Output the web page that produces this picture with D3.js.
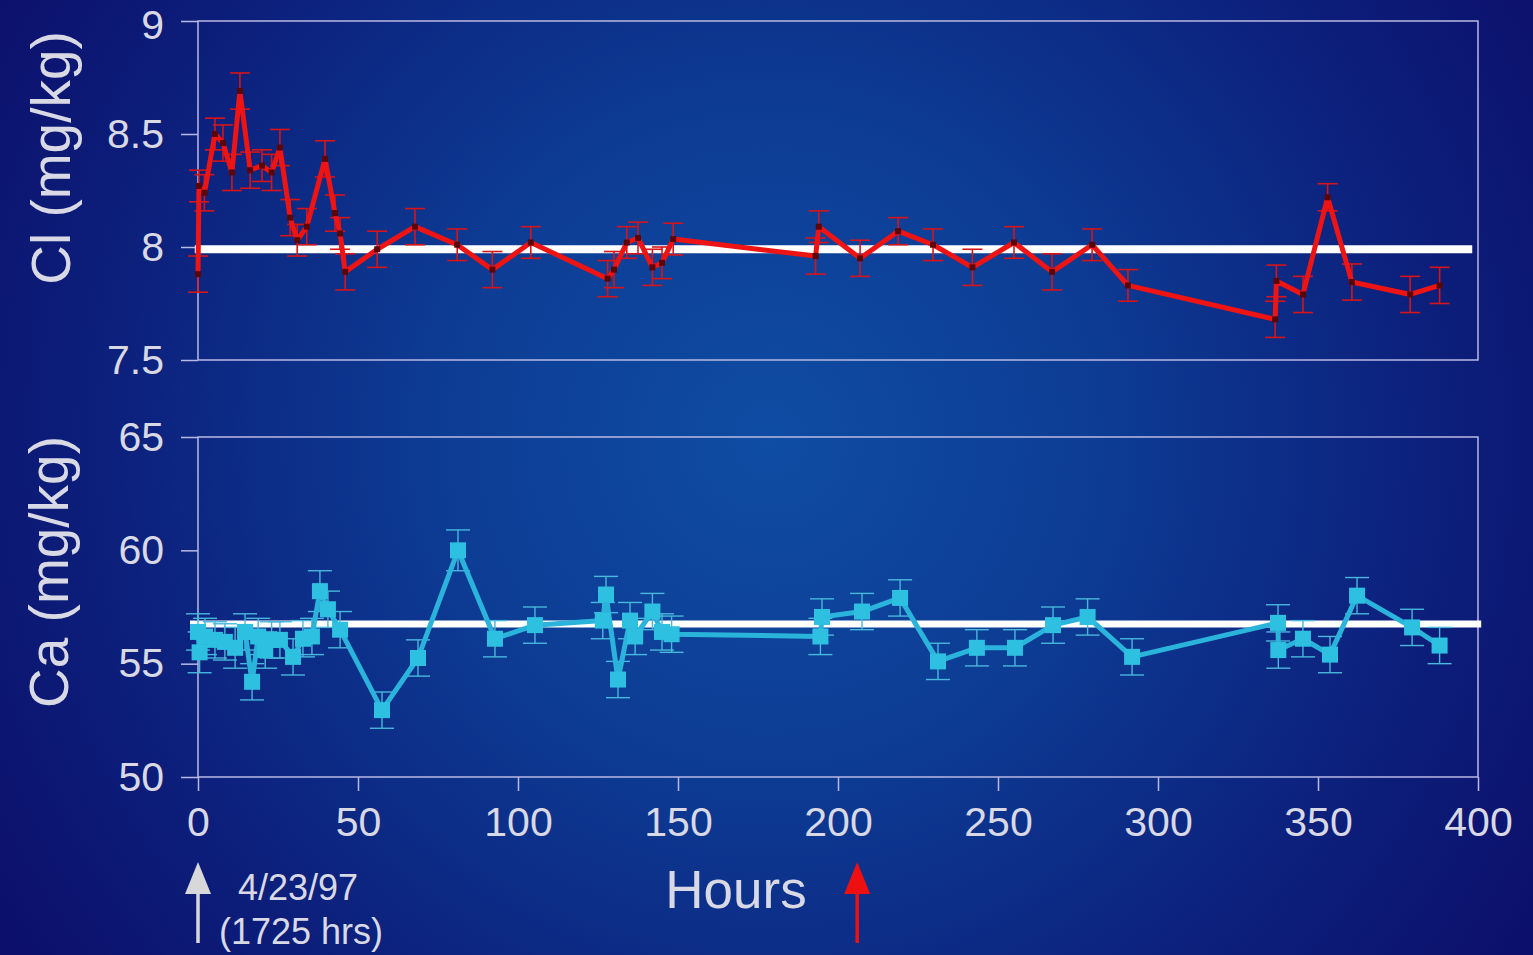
<!DOCTYPE html>
<html>
<head>
<meta charset="utf-8">
<script src="https://cdn.jsdelivr.net/npm/d3@7"></script>
<style>
  html, body { margin: 0; padding: 0; background: #0c116e; }
  svg { display: block; }
  text { font-family: "Liberation Sans", Arial, Helvetica, sans-serif; fill: #d9d9e6; }
</style>
</head>
<body>
<svg id="chart" width="1533" height="955"></svg>
<script>
// Chloride time series (hours, mg/kg, ± error)
const clHours = [0, 0.3, 2, 5.3, 7.8, 10.6, 13.1, 16.3, 20, 23, 25.6, 28.8, 31, 34, 39.7, 42.8, 44.4, 46,
  56, 67.8, 81, 92, 104, 128, 130, 134, 137.5, 142, 145, 148.5, 193, 194, 206.9, 218.8, 229.7,
  242, 255, 266.9, 279.4, 290.6, 336.6, 337, 345.3, 353, 360.6, 378.8, 388];
const clValues = [7.88, 8.27, 8.24, 8.50, 8.46, 8.33, 8.69, 8.34, 8.36, 8.33, 8.44, 8.13, 8.03, 8.09, 8.39, 8.15, 8.06, 7.89,
  7.99, 8.09, 8.01, 7.90, 8.02, 7.86, 7.90, 8.02, 8.04, 7.91, 7.93, 8.035, 7.96, 8.09, 7.95, 8.07, 8.01,
  7.91, 8.02, 7.89, 8.01, 7.83, 7.68, 7.85, 7.79, 8.22, 7.845, 7.79, 7.83];
const clErr = [0.08, 0.07, 0.08, 0.07, 0.08, 0.08, 0.08, 0.08, 0.07, 0.08, 0.08, 0.08, 0.07, 0.08, 0.08, 0.08, 0.07, 0.08,
  0.08, 0.08, 0.07, 0.08, 0.07, 0.08, 0.08, 0.07, 0.07, 0.08, 0.07, 0.07, 0.08, 0.07, 0.08, 0.06, 0.07,
  0.08, 0.07, 0.08, 0.07, 0.07, 0.08, 0.07, 0.08, 0.06, 0.08, 0.08, 0.08];

// Calcium time series (hours, mg/kg, ± error)
const caHours = [0, 0.5, 2.2, 5.3, 8.4, 11.6, 14.7, 16.9, 18.8, 21, 23, 25.6, 29.7, 32.8, 35.6, 38.1, 40.6, 44.4,
  57.5, 68.75, 81.25, 92.8, 105.3, 126.5, 127.5, 131.25, 135, 136.6, 142, 145, 148,
  194.5, 195, 207.5, 219.4, 231.25, 243.4, 255.3, 267.2, 278, 291.9,
  337.5, 337.6, 345.3, 353.75, 362.2, 379.4, 388];
const caValues = [56.4, 55.5, 56.2, 56.05, 55.96, 55.7, 56.4, 54.2, 56.2, 55.6, 56.05, 56.05, 55.3, 56.1, 56.2, 58.2, 57.4, 56.5,
  52.95, 55.25, 60.0, 56.1, 56.7, 56.9, 58.05, 54.3, 56.9, 56.2, 57.3, 56.4, 56.3,
  56.2, 57.06, 57.3, 57.9, 55.1, 55.7, 55.7, 56.7, 57.06, 55.3,
  56.8, 55.6, 56.1, 55.4, 58.0, 56.6, 55.8];
const caErr = [0.8, 0.9, 0.8, 0.8, 0.8, 0.9, 0.8, 0.8, 0.8, 0.8, 0.8, 0.8, 0.8, 0.8, 0.8, 0.9, 0.8, 0.8,
  0.8, 0.8, 0.9, 0.8, 0.8, 0.8, 0.8, 0.8, 0.8, 0.8, 0.8, 0.8, 0.8,
  0.8, 0.8, 0.8, 0.8, 0.8, 0.8, 0.8, 0.8, 0.8, 0.8,
  0.8, 0.8, 0.8, 0.8, 0.8, 0.8, 0.8];

// Long-term means drawn as reference lines
const clMean = 7.99;
const caMean = 56.75;

// Axis ticks
const xTicks = [0, 50, 100, 150, 200, 250, 300, 350, 400];
const clTicks = [7.5, 8, 8.5, 9];
const caTicks = [50, 55, 60, 65];
const clTickLabels = ["7.5", "8", "8.5", "9"];
const caTickLabels = ["50", "55", "60", "65"];

// Annotations
const startHour = 0;
const eventHour = 206;
const startLabel = ["4/23/97", "(1725 hrs)"];

const svg = d3.select("#chart");
const W = 1533, H = 955;

// Background: radial glow from the centre
const defs = svg.append("defs");
const grad = defs.append("radialGradient")
  .attr("id", "bg").attr("gradientUnits", "userSpaceOnUse")
  .attr("cx", 770).attr("cy", 440).attr("r", 900);
grad.append("stop").attr("offset", "0").attr("stop-color", "#0f4ca3");
grad.append("stop").attr("offset", "0.35").attr("stop-color", "#0d3d95");
grad.append("stop").attr("offset", "0.75").attr("stop-color", "#0c1f7b");
grad.append("stop").attr("offset", "1").attr("stop-color", "#0c106c");
svg.append("rect").attr("width", W).attr("height", H).attr("fill", "url(#bg)");

const x = d3.scaleLinear().domain([0, 400]).range([198, 1478]);
const yCl = d3.scaleLinear().domain([7.5, 9]).range([360, 21]);
const yCa = d3.scaleLinear().domain([50, 65]).range([777, 437]);

const frameColor = "#b9b9e4";

function panel(y, ticks, labels) {
  const g = svg.append("g");
  const [y0, y1] = y.range();
  g.append("rect")
    .attr("x", x(0)).attr("y", y1)
    .attr("width", x(400) - x(0)).attr("height", y0 - y1)
    .attr("fill", "none").attr("stroke", frameColor).attr("stroke-width", 1.5);
  const ax = d3.axisLeft(y).tickValues(ticks).tickFormat((d, i) => labels[i])
    .tickSize(17).tickPadding(17);
  const a = g.append("g").attr("transform", `translate(${x(0)},0)`).call(ax);
  a.select(".domain").remove();
  a.selectAll("line").attr("stroke", frameColor).attr("stroke-width", 1.5);
  a.selectAll("text").style("font-size", "41px").attr("fill", "#d9d9e6");
  // keep the topmost label inside the page
  a.selectAll("text").filter(d => d === ticks[ticks.length - 1] && y(d) < 30)
    .attr("dy", "0.42em");
  return g;
}

panel(yCl, clTicks, clTickLabels);
panel(yCa, caTicks, caTickLabels);

// Bottom x axis
const xa = svg.append("g").attr("transform", `translate(0,${yCa.range()[0]})`)
  .call(d3.axisBottom(x).tickValues(xTicks).tickFormat(d3.format("d")).tickSize(14).tickPadding(16));
xa.select(".domain").remove();
xa.selectAll("line").attr("stroke", frameColor).attr("stroke-width", 1.5);
xa.selectAll("text").style("font-size", "41px").attr("fill", "#d9d9e6");

// Axis titles
svg.append("text").attr("transform", `translate(70,158) rotate(-90)`)
  .attr("text-anchor", "middle").style("font-size", "55px").text("Cl (mg/kg)");
svg.append("text").attr("transform", `translate(68,572) rotate(-90)`)
  .attr("text-anchor", "middle").style("font-size", "55px").text("Ca (mg/kg)");
svg.append("text").attr("x", 736).attr("y", 908)
  .attr("text-anchor", "middle").style("font-size", "53px").text("Hours");

// Series drawing helper
function series(hours, values, errs, y, opt) {
  const data = hours.map((h, i) => ({ h, v: values[i], e: errs[i] }));
  const g = svg.append("g");
  const eb = g.append("g").attr("stroke", opt.errColor).attr("stroke-width", opt.errWidth);
  data.forEach(d => {
    const cx = x(d.h), yt = y(d.v + d.e), yb = y(d.v - d.e);
    eb.append("line").attr("x1", cx).attr("x2", cx).attr("y1", yt).attr("y2", yb);
    eb.append("line").attr("x1", cx - opt.cap).attr("x2", cx + opt.cap).attr("y1", yt).attr("y2", yt);
    eb.append("line").attr("x1", cx - opt.cap).attr("x2", cx + opt.cap).attr("y1", yb).attr("y2", yb);
  });
  g.append("path").datum(data)
    .attr("d", d3.line().x(d => x(d.h)).y(d => y(d.v)))
    .attr("fill", "none").attr("stroke", opt.color).attr("stroke-width", opt.lineWidth)
    .attr("stroke-linejoin", "round");
  g.selectAll("rect.m").data(data).join("rect").attr("class", "m")
    .attr("x", d => x(d.h) - opt.marker / 2).attr("y", d => y(d.v) - opt.marker / 2)
    .attr("width", opt.marker).attr("height", opt.marker)
    .attr("fill", opt.markerColor);
}

// Reference (mean) lines
svg.append("line").attr("x1", x(-1)).attr("x2", x(398.2))
  .attr("y1", yCl(clMean)).attr("y2", yCl(clMean))
  .attr("stroke", "#ffffff").attr("stroke-width", 8);

series(clHours, clValues, clErr, yCl, {
  color: "#ee1414", lineWidth: 5, errColor: "#d81418", errWidth: 1.6, cap: 10,
  marker: 6, markerColor: "#5a0608"
});

svg.append("line").attr("x1", x(-2.5)).attr("x2", x(401))
  .attr("y1", yCa(caMean)).attr("y2", yCa(caMean))
  .attr("stroke", "#ffffff").attr("stroke-width", 7);

series(caHours, caValues, caErr, yCa, {
  color: "#2ab4dc", lineWidth: 5, errColor: "#48b8dc", errWidth: 1.4, cap: 12,
  marker: 16, markerColor: "#2ec0e0"
});

// Arrows under the x axis
function arrow(h, color) {
  const cx = x(h);
  svg.append("line").attr("x1", cx).attr("x2", cx).attr("y1", 943).attr("y2", 890)
    .attr("stroke", color).attr("stroke-width", 3.5);
  svg.append("path")
    .attr("d", `M${cx},862 L${cx - 13},894 L${cx + 13},894 Z`)
    .attr("fill", color);
}
arrow(startHour, "#d8d8d8");
arrow(eventHour, "#ee1010");

svg.append("text").attr("x", 238).attr("y", 900).style("font-size", "36px").text(startLabel[0]);
svg.append("text").attr("x", 219).attr("y", 944).style("font-size", "36px").text(startLabel[1]);
</script>
</body>
</html>
